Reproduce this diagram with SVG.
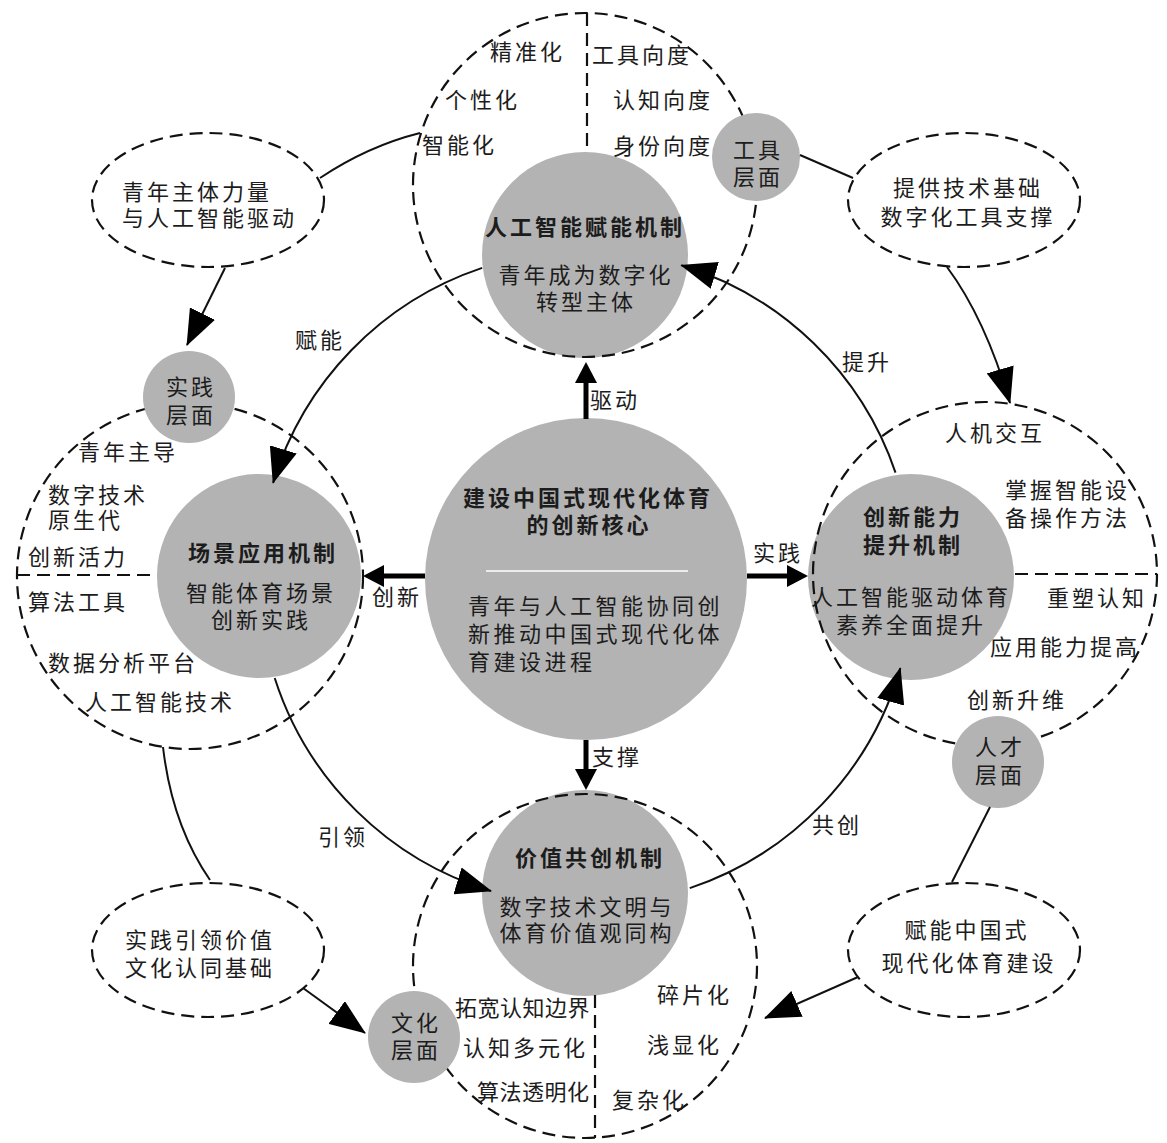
<svg xmlns="http://www.w3.org/2000/svg" width="1167" height="1143" viewBox="0 0 1167 1143">
<defs>
<style>
text{font-family:"Noto Sans CJK SC","Noto Sans",sans-serif;font-size:22px;fill:#1c1c1c;letter-spacing:3px}
.b{font-weight:700}
.m{text-anchor:middle}
.dash{fill:none;stroke:#111;stroke-width:2.2;stroke-dasharray:13 7}
.gray{fill:#b3b3b3}
.ell{fill:#fff;stroke:#111;stroke-width:2.2;stroke-dasharray:13 7}
.ln{fill:none;stroke:#111;stroke-width:2}
.thick{fill:none;stroke:#000;stroke-width:5}
</style>
<marker id="ah" markerUnits="userSpaceOnUse" viewBox="0 0 36 28" refX="35" refY="14" markerWidth="36" markerHeight="28" orient="auto"><path d="M0,0 L36,14 L0,28 z" fill="#000"/></marker>
<marker id="as" markerUnits="userSpaceOnUse" viewBox="0 0 21 22" refX="13" refY="11" markerWidth="21" markerHeight="22" orient="auto"><path d="M0,0 L21,11 L0,22 z" fill="#000"/></marker>
</defs>
<rect width="1167" height="1143" fill="#fff"/>

<g id="core">
<circle class="gray" cx="586" cy="579" r="161"/>
<line x1="486" y1="571" x2="688" y2="571" stroke="#fff" stroke-width="1.5"/>
<text class="b m" x="588" y="506">建设中国式现代化体育</text>
<text class="b m" x="589" y="533">的创新核心</text>
<text x="468" y="614" style="letter-spacing:3.5px">青年与人工智能协同创</text>
<text x="468" y="642" style="letter-spacing:3.5px">新推动中国式现代化体</text>
<text x="468" y="670" style="letter-spacing:3.5px">育建设进程</text>
</g>

<g id="mech-top">
<circle class="gray" cx="585" cy="255" r="103"/>
<circle class="dash" cx="585" cy="185" r="172"/>
<line class="dash" x1="587" y1="13" x2="587" y2="153"/>
<text x="490" y="60">精准化</text>
<text x="445" y="108">个性化</text>
<text x="422" y="153">智能化</text>
<text x="592" y="63">工具向度</text>
<text x="613" y="108">认知向度</text>
<text x="613" y="154">身份向度</text>
<text class="b m" x="585" y="235">人工智能赋能机制</text>
<text class="m" x="586" y="283">青年成为数字化</text>
<text class="m" x="586" y="310">转型主体</text>
</g>

<g id="mech-left">
<circle class="gray" cx="259" cy="576" r="102"/>
<circle class="dash" cx="190" cy="576" r="173"/>
<line class="dash" x1="17" y1="575" x2="157" y2="575"/>
<text x="78" y="460">青年主导</text>
<text x="48" y="503">数字技术</text>
<text x="48" y="528">原生代</text>
<text x="28" y="565">创新活力</text>
<text x="28" y="610">算法工具</text>
<text x="48" y="671">数据分析平台</text>
<text x="85" y="710">人工智能技术</text>
<text class="b m" x="263" y="561">场景应用机制</text>
<text class="m" x="261" y="601">智能体育场景</text>
<text class="m" x="261" y="628">创新实践</text>
</g>

<g id="mech-right">
<circle class="gray" cx="911" cy="577" r="103"/>
<circle class="dash" cx="985" cy="574" r="172"/>
<line class="dash" x1="1015" y1="574" x2="1157" y2="574"/>
<text x="945" y="441">人机交互</text>
<text x="1005" y="498">掌握智能设</text>
<text x="1005" y="526">备操作方法</text>
<text x="1047" y="606">重塑认知</text>
<text x="990" y="655">应用能力提高</text>
<text x="967" y="708">创新升维</text>
<text class="b m" x="913" y="525">创新能力</text>
<text class="b m" x="913" y="553">提升机制</text>
<text class="m" x="911" y="605">人工智能驱动体育</text>
<text class="m" x="911" y="633">素养全面提升</text>
</g>

<g id="mech-bottom">
<circle class="gray" cx="585" cy="893" r="103"/>
<circle class="dash" cx="585" cy="966" r="172"/>
<line class="dash" x1="595" y1="995" x2="595" y2="1138"/>
<text x="455" y="1016" style="letter-spacing:0.5px">拓宽认知边界</text>
<text x="463" y="1056">认知多元化</text>
<text x="477" y="1100" style="letter-spacing:0.5px">算法透明化</text>
<text x="657" y="1003">碎片化</text>
<text x="647" y="1053">浅显化</text>
<text x="612" y="1108">复杂化</text>
<text class="b m" x="590" y="866">价值共创机制</text>
<text class="m" x="587" y="915">数字技术文明与</text>
<text class="m" x="587" y="941">体育价值观同构</text>
</g>

<g id="layer-tool">
<circle class="gray" cx="756" cy="157" r="44"/>
<text class="m" x="758" y="158">工具</text>
<text class="m" x="758" y="185">层面</text>
</g>
<g id="layer-practice">
<circle class="gray" cx="189" cy="397" r="46"/>
<text class="m" x="191" y="395">实践</text>
<text class="m" x="191" y="423">层面</text>
</g>
<g id="layer-talent">
<circle class="gray" cx="998" cy="762" r="46"/>
<text class="m" x="1000" y="755">人才</text>
<text class="m" x="1000" y="783">层面</text>
</g>
<g id="layer-culture">
<circle class="gray" cx="414" cy="1037" r="46"/>
<text class="m" x="416" y="1031">文化</text>
<text class="m" x="416" y="1058">层面</text>
</g>

<g id="ell-tl">
<ellipse class="ell" cx="208" cy="200" rx="116" ry="67"/>
<text x="122" y="200">青年主体力量</text>
<text x="122" y="226">与人工智能驱动</text>
</g>
<g id="ell-tr">
<ellipse class="ell" cx="964" cy="200" rx="116" ry="67"/>
<text class="m" x="968" y="196">提供技术基础</text>
<text class="m" x="968" y="225">数字化工具支撑</text>
</g>
<g id="ell-bl">
<ellipse class="ell" cx="208" cy="950" rx="116" ry="67"/>
<text x="125" y="948">实践引领价值</text>
<text x="125" y="976">文化认同基础</text>
</g>
<g id="ell-br">
<ellipse class="ell" cx="964" cy="950" rx="116" ry="67"/>
<text class="m" x="967" y="938">赋能中国式</text>
<text class="m" x="969" y="971">现代化体育建设</text>
</g>

<g id="connectors">
<path class="ln" d="M482.2,267.9 A327,327 0 0 0 273.1,482.9" marker-end="url(#ah)"/>
<path class="ln" d="M274.7,678 A327,327 0 0 0 491,891" marker-end="url(#ah)"/>
<path class="ln" d="M689.8,888.1 A327,327 0 0 0 900.3,668.1" marker-end="url(#ah)"/>
<path class="ln" d="M895.5,472.6 A327,327 0 0 0 681.3,265.2" marker-end="url(#ah)"/>
<path class="thick" d="M586,419 L586,370" marker-end="url(#as)"/>
<path class="thick" d="M425,576 L371,576" marker-end="url(#as)"/>
<path class="thick" d="M747,576 L800,576" marker-end="url(#as)"/>
<path class="thick" d="M586,740 L586,782" marker-end="url(#as)"/>
<path class="ln" d="M320,178 Q368,146 420,133"/>
<path class="ln" d="M225,268 L187,345" marker-end="url(#ah)"/>
<path class="ln" d="M800,155 L853,178"/>
<path class="ln" d="M947,267 Q985,318 1010,403" marker-end="url(#ah)"/>
<path class="ln" d="M163,747 Q172,825 210,880"/>
<path class="ln" d="M303,988 L365,1033" marker-end="url(#ah)"/>
<path class="ln" d="M990,807 L952,882"/>
<path class="ln" d="M858,977 Q815,996 765,1018" marker-end="url(#ah)"/>
<text x="295" y="348">赋能</text>
<text x="842" y="370">提升</text>
<text x="318" y="845">引领</text>
<text x="812" y="833">共创</text>
<text x="590" y="408">驱动</text>
<text x="372" y="605">创新</text>
<text x="753" y="561">实践</text>
<text x="592" y="765">支撑</text>
</g>
</svg>
